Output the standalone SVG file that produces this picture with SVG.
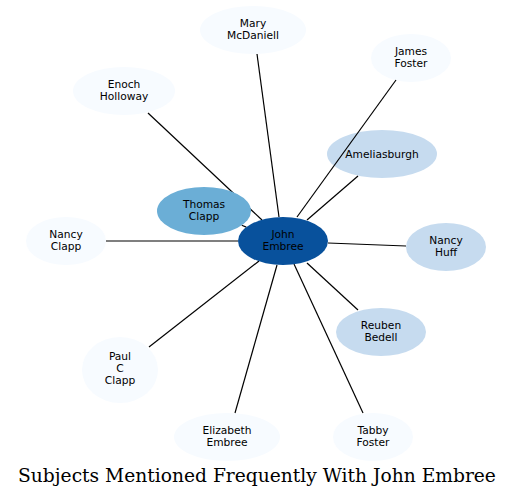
<svg xmlns="http://www.w3.org/2000/svg" width="513" height="498" viewBox="0 0 513 498">
<style>
.n text{font-family:"DejaVu Sans",sans-serif;font-size:10.67px;text-anchor:middle;fill:#000}
.c0{fill:#f7fbff}.c1{fill:#c6dbef}.c2{fill:#6baed6}.c3{fill:#08519c}
#edges line{stroke:#000;stroke-width:1.2}
.title{font-family:"DejaVu Serif",serif;font-size:18.67px;text-anchor:middle;fill:#000}
</style>
<rect width="513" height="498" fill="#fff"/>
<g id="n-mary" class="n"><ellipse class="c0" cx="253" cy="30" rx="53" ry="24"/><text x="253" y="27">Mary</text><text x="253" y="39">McDaniell</text></g>
<g id="n-james" class="n"><ellipse class="c0" cx="411" cy="58" rx="40" ry="24"/><text x="411" y="55">James</text><text x="411" y="67">Foster</text></g>
<g id="n-enoch" class="n"><ellipse class="c0" cx="124" cy="91" rx="51" ry="24"/><text x="124" y="88">Enoch</text><text x="124" y="100">Holloway</text></g>
<g id="n-amelia" class="n"><ellipse class="c1" cx="382" cy="154" rx="55" ry="24"/><text x="382" y="158">Ameliasburgh</text></g>
<g id="n-nclapp" class="n"><ellipse class="c0" cx="66" cy="241" rx="40" ry="24"/><text x="66" y="238">Nancy</text><text x="66" y="250">Clapp</text></g>
<g id="n-huff" class="n"><ellipse class="c1" cx="446" cy="247" rx="40" ry="24"/><text x="446" y="244">Nancy</text><text x="446" y="256">Huff</text></g>
<g id="n-reuben" class="n"><ellipse class="c1" cx="381" cy="332" rx="45" ry="24"/><text x="381" y="329">Reuben</text><text x="381" y="341">Bedell</text></g>
<g id="n-paul" class="n"><ellipse class="c0" cx="120" cy="370" rx="38" ry="33"/><text x="120" y="360">Paul</text><text x="120" y="372">C</text><text x="120" y="384">Clapp</text></g>
<g id="n-eliz" class="n"><ellipse class="c0" cx="227" cy="437" rx="53" ry="24"/><text x="227" y="434">Elizabeth</text><text x="227" y="446">Embree</text></g>
<g id="n-tabby" class="n"><ellipse class="c0" cx="373" cy="437" rx="40" ry="24"/><text x="373" y="434">Tabby</text><text x="373" y="446">Foster</text></g>
<g id="edges">
<line x1="257" y1="54" x2="279" y2="217"/>
<line x1="396" y1="80" x2="297" y2="217"/>
<line x1="148" y1="113" x2="262" y2="220"/>
<line x1="358" y1="176" x2="307" y2="220"/>
<line x1="241.7" y1="225.3" x2="246.3" y2="227.1"/>
<line x1="106" y1="241" x2="238" y2="241"/>
<line x1="328" y1="243" x2="406" y2="246"/>
<line x1="307" y1="263" x2="358" y2="310"/>
<line x1="149" y1="347" x2="259" y2="261"/>
<line x1="235" y1="413" x2="277" y2="265"/>
<line x1="363" y1="413" x2="294" y2="264"/>
</g>
<g id="n-thomas" class="n"><ellipse class="c2" cx="204" cy="211" rx="47" ry="24"/><text x="204" y="208">Thomas</text><text x="204" y="220">Clapp</text></g>
<g id="n-john" class="n"><ellipse class="c3" cx="283" cy="241" rx="45" ry="24"/><text x="283" y="238">John</text><text x="283" y="250">Embree</text></g>
<text class="title" x="257" y="482">Subjects Mentioned Frequently With John Embree</text>
</svg>
